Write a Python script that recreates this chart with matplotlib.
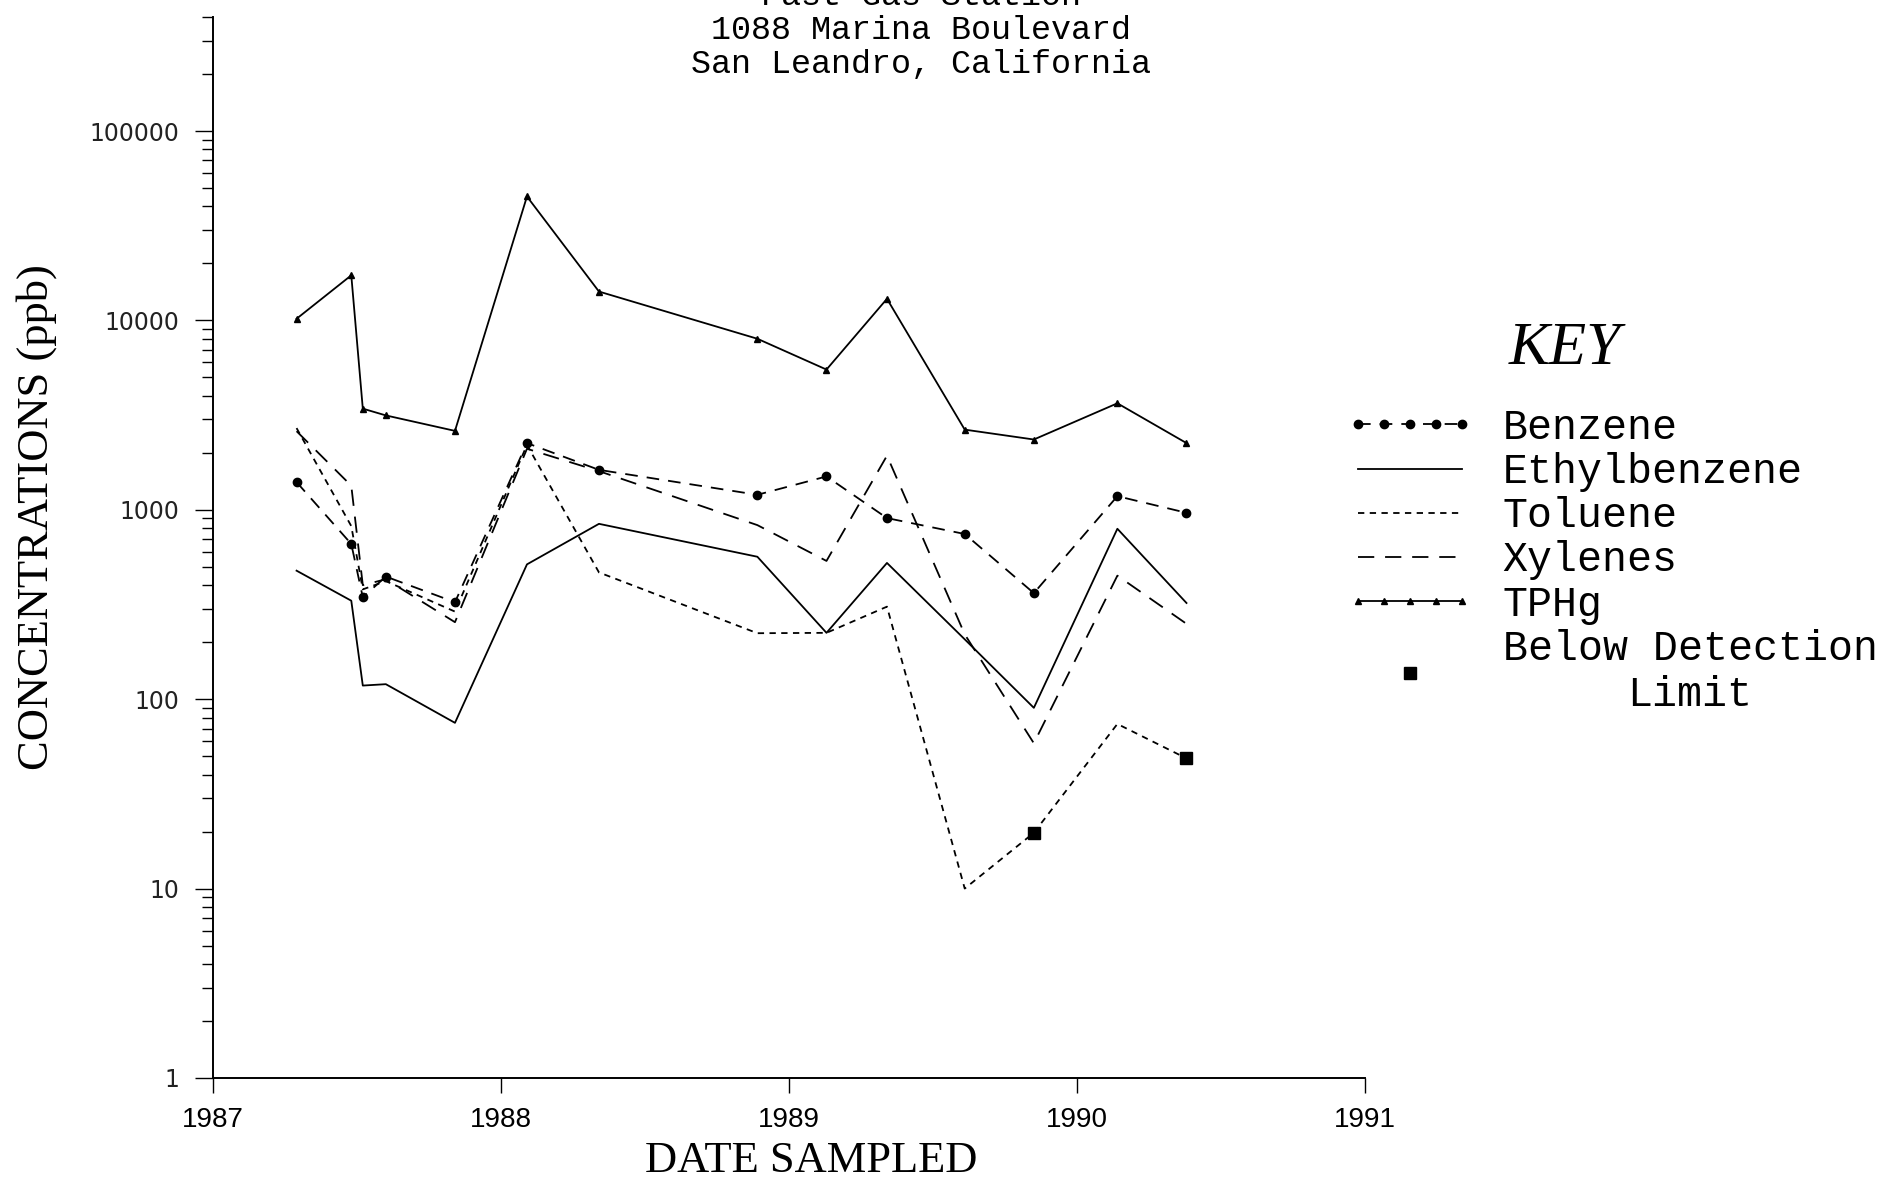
import matplotlib
matplotlib.use("Agg")
import matplotlib.pyplot as plt
from matplotlib.ticker import FixedLocator, LogLocator, NullFormatter
from matplotlib.legend_handler import HandlerLine2D
from matplotlib.font_manager import FontProperties

# sampling dates (decimal years) and concentrations in ppb
dates = [1987.29, 1987.48, 1987.52, 1987.60, 1987.84, 1988.09, 1988.34,
         1988.89, 1989.13, 1989.34, 1989.61, 1989.85, 1990.14, 1990.38]
benzene = [1400, 660, 345, 444, 325, 2250, 1625, 1200, 1500, 904, 745, 363, 1180, 964]
ethylbenzene = [477, 331, 118, 120, 75, 515, 843, 565, 224, 524, 207, 90, 794, 322]
toluene = [2700, 820, 380, 420, 290, 2200, 467, 223, 224, 308, 10, 19.7, 74, 48.7]
xylenes = [2600, 1340, 400, 430, 255, 2100, 1600, 830, 537, 1930, 220, 58.5, 449, 250]
tphg = [10200, 17300, 3420, 3150, 2610, 45100, 14200, 8000, 5500, 13000, 2650, 2350, 3650, 2250]

# toluene results below detection limit
bdl_dates = [1989.85, 1990.38]
bdl_values = [19.7, 48.7]

year_ticks = [1987, 1988, 1989, 1990, 1991]
conc_ticks = [1, 10, 100, 1000, 10000, 100000]
conc_labels = ["1", "10", "100", "1000", "10000", "100000"]

title_lines = ["Fast Gas Station", "1088 Marina Boulevard", "San Leandro, California"]

fig = plt.figure(figsize=(18.87, 11.79), dpi=100)
ax = fig.add_axes([0.1129, 0.0857, 0.6105, 0.8999])

lw = 1.3
b, = ax.plot(dates, benzene, color="black", lw=lw, ls=(0, (7, 5)),
             marker="o", ms=6, label="Benzene")
e, = ax.plot(dates, ethylbenzene, color="black", lw=lw, ls="-", label="Ethylbenzene")
t, = ax.plot(dates, toluene, color="black", lw=lw, ls=(0, (3.5, 3)), label="Toluene")
x, = ax.plot(dates, xylenes, color="black", lw=lw, ls=(0, (9, 6)), label="Xylenes")
p, = ax.plot(dates, tphg, color="black", lw=lw, ls="-", marker="^", ms=5, label="TPHg")
s, = ax.plot(bdl_dates, bdl_values, color="black", ls="none", marker="s", ms=9,
             label="Below Detection\nLimit")

ax.set_yscale("log")
ax.set_xlim(1987, 1991)
ax.set_ylim(1, 4e5)

for side in ["top", "right"]:
    ax.spines[side].set_visible(False)
ax.spines["left"].set_linewidth(1.4)
ax.spines["bottom"].set_linewidth(1.4)

ax.xaxis.set_major_locator(FixedLocator(year_ticks))
ax.set_xticklabels([str(y) for y in year_ticks], family="Liberation Sans", fontsize=20)
ax.tick_params(axis="x", direction="out", length=11, width=1, pad=10)

ax.yaxis.set_major_locator(FixedLocator(conc_ticks))
ax.set_yticklabels(conc_labels, family="DejaVu Sans", fontsize=17, color="#222222")
ax.yaxis.set_minor_locator(LogLocator(base=10, subs=range(2, 10), numticks=20))
ax.yaxis.set_minor_formatter(NullFormatter())
ax.tick_params(axis="y", which="major", direction="out", length=13, width=1, pad=11)
ax.tick_params(axis="y", which="minor", direction="out", length=8, width=1)

fig.text(0.0191, 0.5615, "CONCENTRATIONS (ppb)", rotation=90, ha="center", va="center",
         family="Liberation Serif", fontsize=32)
fig.text(0.4298, 0.0153, "DATE SAMPLED", ha="center", va="center",
         family="Liberation Serif", fontsize=32)

# top line of the title is cut by the page edge in the original scan
for i, line in enumerate(title_lines):
    fig.text(0.488, 1.003 - i * 0.0288, line, ha="center", va="center",
             family="Liberation Mono", fontsize=24)

fig.text(0.8294, 0.704, "KEY", ha="center", va="center", family="Liberation Serif",
         style="italic", fontsize=44)

leg = fig.legend(handles=[b, e, t, x, p, s], loc="upper left",
                 bbox_to_anchor=(0.713, 0.654), frameon=False, borderpad=0,
                 borderaxespad=0, handlelength=3.1, handletextpad=0.67,
                 labelspacing=0.1, numpoints=5,
                 prop=FontProperties(family="Liberation Mono", size=30),
                 handler_map={s: HandlerLine2D(numpoints=1)})
for txt in leg.get_texts():
    txt.set_multialignment("center")

fig.savefig("out.png", dpi=100)
